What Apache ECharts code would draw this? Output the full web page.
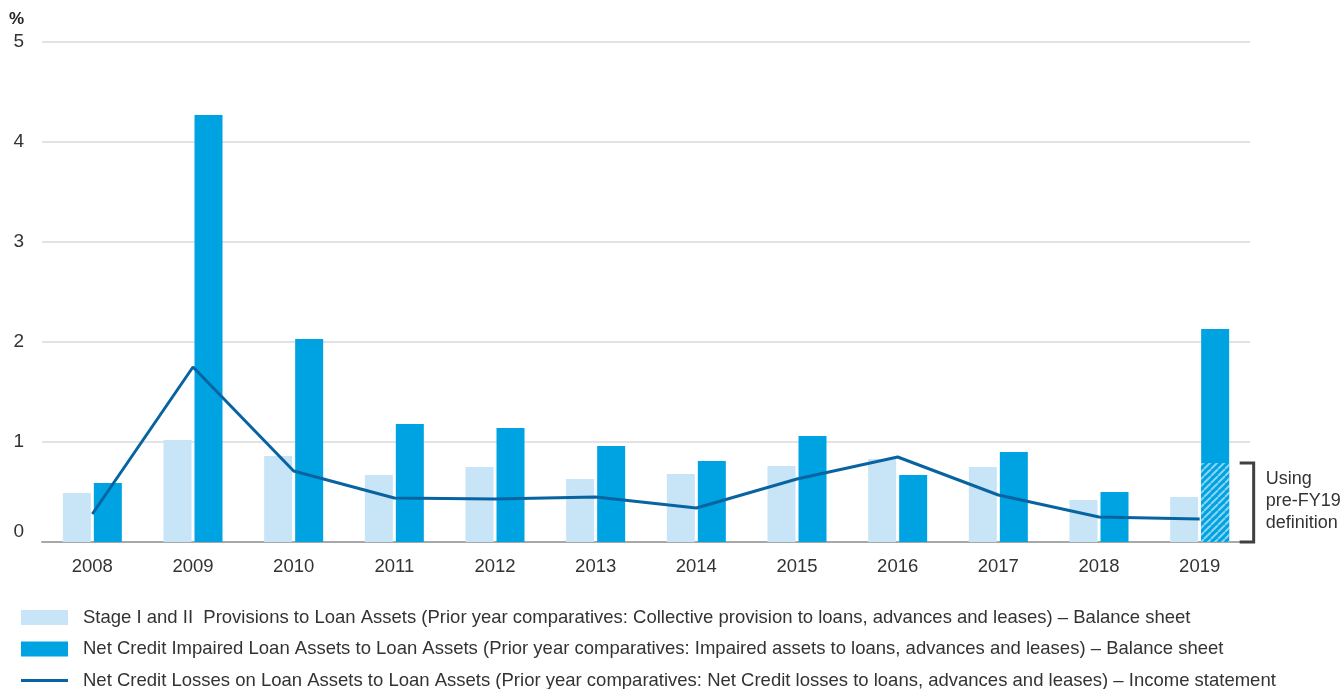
<!DOCTYPE html>
<html>
<head>
<meta charset="utf-8">
<script src="https://cdn.jsdelivr.net/npm/echarts@6/dist/echarts.min.js"></script>
<style>
  html, body { margin: 0; padding: 0; background: #fff; }
  #chart { width: 1343px; height: 689px; }
</style>
</head>
<body>
<div id="chart"></div>
<script>
// Loan quality ratios, % of loan assets
const years = ['2008', '2009', '2010', '2011', '2012', '2013', '2014', '2015', '2016', '2017', '2018', '2019'];
const stageProvisions = [0.49, 1.02, 0.86, 0.67, 0.75, 0.63, 0.68, 0.76, 0.83, 0.75, 0.42, 0.45];
const impairedAssets = [0.59, 4.27, 2.03, 1.18, 1.14, 0.96, 0.81, 1.06, 0.67, 0.90, 0.50, 2.13];
const impairedPreFY19 = ['-', '-', '-', '-', '-', '-', '-', '-', '-', '-', '-', 0.79];
const creditLosses = [0.28, 1.75, 0.71, 0.44, 0.43, 0.45, 0.34, 0.63, 0.85, 0.47, 0.25, 0.23];
const yTicks = { min: 0, max: 5, interval: 1 };

const legendNames = [
  'Stage I and II  Provisions to Loan Assets (Prior year comparatives: Collective provision to loans, advances and leases) \u2013 Balance sheet',
  'Net Credit Impaired Loan Assets to Loan Assets (Prior year comparatives: Impaired assets to loans, advances and leases) \u2013 Balance sheet',
  'Net Credit Losses on Loan Assets to Loan Assets (Prior year comparatives: Net Credit losses to loans, advances and leases) \u2013 Income statement'
];

const FONT = '"Liberation Sans", Arial, sans-serif';
const TEXT = '#333333';
const LIGHT = '#C8E4F7';
const BLUE = '#00A3E1';
const LINE = '#0864A1';

// diagonal hatch used for the 2019 figure on the earlier definition
function hatchPattern() {
  const n = 7;
  const c = document.createElement('canvas');
  c.width = n; c.height = n;
  const g = c.getContext('2d');
  g.fillStyle = BLUE;
  g.fillRect(0, 0, n, n);
  g.strokeStyle = '#8AD3F3';
  g.lineWidth = 2;
  g.beginPath();
  for (const k of [-n, 0, n]) {
    g.moveTo(k, n);
    g.lineTo(k + n, 0);
  }
  g.stroke();
  return c;
}

const chart = echarts.init(document.getElementById('chart'), null, { renderer: 'canvas' });

const barWidth = 28;
const barGap = '10.7%';

chart.setOption({
  animation: false,
  backgroundColor: '#ffffff',
  textStyle: { fontFamily: FONT },
  grid: { left: 42, right: 93, top: 42, bottom: 147, containLabel: false },
  legend: {
    orient: 'vertical',
    left: 21,
    top: 608,
    height: 150,
    itemWidth: 47,
    itemHeight: 15,
    itemGap: 12.5,
    padding: 0,
    selectedMode: false,
    symbolKeepAspect: true,
    data: [
      { name: legendNames[0], icon: 'rect' },
      { name: legendNames[1], icon: 'rect' },
      { name: legendNames[2], icon: 'path://M0,0H47V3H0Z', itemStyle: { color: LINE } }
    ],
    textStyle: { fontSize: 18.5, color: TEXT, fontFamily: FONT, padding: [0, 0, 0, 10] }
  },
  xAxis: [
    {
      type: 'category',
      data: years,
      axisTick: { show: false },
      axisLine: { lineStyle: { color: '#A8A8A8', width: 2 } },
      axisLabel: { color: TEXT, fontSize: 18.5, margin: 15, fontFamily: FONT }
    },
    { type: 'category', data: years, show: false, gridIndex: 0 }
  ],
  yAxis: {
    type: 'value',
    min: yTicks.min,
    max: yTicks.max,
    interval: yTicks.interval,
    axisLine: { show: false },
    axisTick: { show: false },
    splitLine: { lineStyle: { color: '#DADADA', width: 1.5 } },
    axisLabel: {
      color: TEXT,
      fontSize: 19,
      margin: 18,
      fontFamily: FONT,
      formatter: v => (v === 0 ? '{zero|0}' : String(v)),
      rich: { zero: { fontSize: 19, color: TEXT, fontFamily: FONT, padding: [0, 0, 20, 0] } }
    }
  },
  series: [
    {
      name: legendNames[0],
      type: 'bar',
      data: stageProvisions,
      barWidth: barWidth,
      barGap: barGap,
      itemStyle: { color: LIGHT },
      z: 2
    },
    {
      name: legendNames[1],
      type: 'bar',
      data: impairedAssets,
      barWidth: barWidth,
      barGap: barGap,
      itemStyle: { color: BLUE },
      z: 2
    },
    // second (hidden) category axis lines the hatched piece up with the dark bar
    {
      name: 'slot',
      type: 'bar',
      xAxisIndex: 1,
      data: years.map(() => '-'),
      barWidth: barWidth,
      barGap: barGap,
      silent: true,
      itemStyle: { color: 'rgba(0,0,0,0)' }
    },
    {
      name: 'pre-FY19 definition',
      type: 'bar',
      xAxisIndex: 1,
      data: impairedPreFY19,
      barWidth: barWidth,
      barGap: barGap,
      itemStyle: { color: { image: hatchPattern(), repeat: 'repeat' } },
      z: 3
    },
    {
      name: legendNames[2],
      type: 'line',
      data: creditLosses,
      symbol: 'none',
      lineStyle: { color: LINE, width: 3 },
      itemStyle: { color: LINE },
      z: 5
    }
  ]
});

// axis unit and the bracket marking the 2019 figure on the earlier definition
const last = years.length - 1;
const yTopPx = chart.convertToPixel({ yAxisIndex: 0 }, impairedPreFY19[last]);
const yBasePx = chart.convertToPixel({ yAxisIndex: 0 }, 0);
const xBarPx = chart.convertToPixel({ xAxisIndex: 0 }, years[last]);
const bx0 = xBarPx + 40;
const bx1 = bx0 + 14;

chart.setOption({
  graphic: [
    {
      type: 'text',
      left: 9,
      top: 11,
      style: { text: '%', fontSize: 17, fontWeight: 'bold', fill: '#222', fontFamily: FONT }
    },
    {
      type: 'polyline',
      shape: { points: [[bx0, yTopPx], [bx1, yTopPx], [bx1, yBasePx], [bx0, yBasePx]] },
      style: { stroke: '#404040', lineWidth: 3, fill: null },
      z: 10
    },
    {
      type: 'text',
      x: bx1 + 12,
      y: yTopPx + 5,
      style: {
        text: 'Using\npre-FY19\ndefinition',
        fontSize: 18,
        lineHeight: 22,
        fill: TEXT,
        fontFamily: FONT
      }
    }
  ]
});
</script>
</body>
</html>
